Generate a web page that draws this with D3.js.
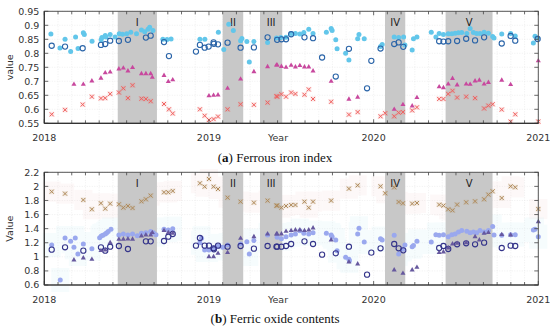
<!DOCTYPE html>
<html><head><meta charset="utf-8">
<script src="https://cdn.jsdelivr.net/npm/d3@7/dist/d3.min.js"></script>
<style>body{margin:0;background:#fff}svg{display:block}</style>
</head><body>
<script>
// ---------- DATA (decimal years, values) ----------
const bands = [[2018.446,2018.684,"I"],[2019.083,2019.208,"II"],[2019.31,2019.445,"III"],[2020.069,2020.192,"IV"],[2020.437,2020.722,"V"]];
const xTicks = [2018,2019,2020,2021];
const yTicksA = [0.55,0.6,0.65,0.7,0.75,0.8,0.85,0.9,0.95];
const yTicksB = [0.6,0.8,1,1.2,1.4,1.6,1.8,2,2.2];

// panel (a)
const aLightBlue = [[2018.04,0.869],[2018.095,0.819],[2018.126,0.85],[2018.16,0.806],[2018.19,0.858],[2018.205,0.817],[2018.237,0.873],[2018.243,0.867],[2018.29,0.843],[2018.345,0.848],[2018.35,0.856],[2018.37,0.864],[2018.375,0.858],[2018.4,0.867],[2018.43,0.858],[2018.455,0.87],[2018.475,0.868],[2018.5,0.87],[2018.525,0.875],[2018.56,0.87],[2018.59,0.883],[2018.61,0.877],[2018.63,0.886],[2018.64,0.893],[2018.66,0.881],[2018.72,0.85],[2018.745,0.849],[2018.77,0.851],[2018.945,0.85],[2018.975,0.85],[2019.057,0.875],[2019.09,0.814],[2019.12,0.904],[2019.148,0.881],[2019.192,0.845],[2019.2,0.853],[2019.23,0.842],[2019.245,0.769],[2019.273,0.842],[2019.356,0.839],[2019.41,0.855],[2019.436,0.856],[2019.468,0.857],[2019.499,0.871],[2019.525,0.871],[2019.552,0.869],[2019.576,0.874],[2019.606,0.886],[2019.632,0.871],[2019.713,0.875],[2019.742,0.889],[2019.748,0.881],[2019.77,0.848],[2019.778,0.816],[2019.83,0.8],[2019.85,0.776],[2019.903,0.852],[2019.911,0.867],[2019.943,0.852],[2020.042,0.824],[2020.052,0.831],[2020.125,0.858],[2020.152,0.856],[2020.182,0.858],[2020.19,0.83],[2020.234,0.812],[2020.242,0.852],[2020.263,0.858],[2020.35,0.875],[2020.378,0.858],[2020.398,0.871],[2020.424,0.867],[2020.453,0.87],[2020.475,0.87],[2020.495,0.872],[2020.515,0.873],[2020.535,0.874],[2020.566,0.871],[2020.586,0.889],[2020.606,0.874],[2020.626,0.871],[2020.646,0.871],[2020.671,0.875],[2020.697,0.872],[2020.723,0.86],[2020.731,0.855],[2020.778,0.869],[2020.832,0.871],[2020.86,0.862],[2020.97,0.837],[2020.98,0.861],[2020.996,0.855]];
const aDarkCircle = [[2018.045,0.827],[2018.126,0.824],[2018.233,0.818],[2018.344,0.83],[2018.37,0.833],[2018.4,0.845],[2018.453,0.844],[2018.508,0.848],[2018.617,0.856],[2018.646,0.863],[2018.727,0.84],[2018.757,0.79],[2018.921,0.806],[2018.945,0.83],[2018.974,0.82],[2018.998,0.824],[2019.028,0.839],[2019.03,0.834],[2019.055,0.832],[2019.113,0.838],[2019.192,0.82],[2019.273,0.821],[2019.356,0.857],[2019.414,0.848],[2019.44,0.85],[2019.468,0.85],[2019.499,0.868],[2019.58,0.857],[2019.632,0.854],[2019.687,0.785],[2019.77,0.717],[2019.85,0.816],[2019.96,0.675],[2019.986,0.773],[2020.042,0.817],[2020.125,0.833],[2020.152,0.839],[2020.18,0.823],[2020.398,0.843],[2020.424,0.842],[2020.453,0.843],[2020.507,0.844],[2020.562,0.852],[2020.616,0.846],[2020.671,0.857],[2020.778,0.835],[2020.832,0.862],[2020.86,0.845],[2020.996,0.851]];
const aTriangle = [[2018.18,0.689],[2018.237,0.689],[2018.289,0.701],[2018.344,0.711],[2018.37,0.73],[2018.4,0.733],[2018.453,0.744],[2018.48,0.747],[2018.508,0.737],[2018.536,0.749],[2018.59,0.727],[2018.617,0.727],[2018.646,0.727],[2018.656,0.714],[2018.727,0.721],[2018.753,0.699],[2018.78,0.705],[2019.0,0.648],[2019.028,0.65],[2019.055,0.651],[2019.113,0.675],[2019.192,0.708],[2019.273,0.734],[2019.356,0.752],[2019.41,0.758],[2019.414,0.758],[2019.44,0.753],[2019.468,0.75],[2019.499,0.757],[2019.525,0.751],[2019.552,0.756],[2019.58,0.751],[2019.606,0.751],[2019.632,0.737],[2019.742,0.7],[2019.85,0.636],[2019.903,0.643],[2020.125,0.6],[2020.178,0.617],[2020.234,0.612],[2020.263,0.642],[2020.398,0.68],[2020.424,0.677],[2020.453,0.69],[2020.479,0.71],[2020.507,0.687],[2020.562,0.69],[2020.586,0.689],[2020.616,0.701],[2020.642,0.704],[2020.671,0.69],[2020.697,0.696],[2020.778,0.704],[2020.832,0.688],[2021.0,0.773]];
const aCross = [[2018.045,0.582],[2018.126,0.598],[2018.233,0.617],[2018.289,0.645],[2018.344,0.639],[2018.37,0.64],[2018.4,0.655],[2018.453,0.66],[2018.48,0.675],[2018.508,0.64],[2018.536,0.686],[2018.59,0.638],[2018.617,0.637],[2018.646,0.629],[2018.727,0.619],[2018.757,0.6],[2018.78,0.585],[2018.945,0.6],[2018.974,0.577],[2019.0,0.562],[2019.028,0.565],[2019.055,0.574],[2019.113,0.6],[2019.192,0.618],[2019.273,0.616],[2019.356,0.624],[2019.41,0.647],[2019.414,0.645],[2019.44,0.654],[2019.468,0.645],[2019.499,0.66],[2019.525,0.655],[2019.58,0.652],[2019.606,0.671],[2019.632,0.637],[2019.742,0.627],[2019.85,0.581],[2019.903,0.59],[2020.042,0.575],[2020.07,0.586],[2020.125,0.575],[2020.152,0.588],[2020.178,0.59],[2020.234,0.596],[2020.263,0.607],[2020.398,0.637],[2020.424,0.637],[2020.453,0.655],[2020.479,0.666],[2020.507,0.642],[2020.562,0.645],[2020.616,0.64],[2020.671,0.603],[2020.697,0.613],[2020.723,0.618],[2020.778,0.599],[2020.832,0.556],[2020.86,0.582],[2021.0,0.556]];

// panel (b)
const bCross = [[2018.045,1.925],[2018.126,1.897],[2018.237,1.807],[2018.289,1.675],[2018.344,1.76],[2018.37,1.684],[2018.4,1.755],[2018.453,1.746],[2018.48,1.698],[2018.508,1.722],[2018.536,1.693],[2018.59,1.788],[2018.617,1.817],[2018.646,1.869],[2018.727,1.916],[2018.753,1.916],[2018.78,1.935],[2018.945,2.044],[2018.974,1.996],[2019.0,2.105],[2019.028,1.996],[2019.055,1.963],[2019.113,1.84],[2019.192,1.783],[2019.273,1.769],[2019.356,1.798],[2019.41,1.727],[2019.414,1.727],[2019.44,1.698],[2019.468,1.722],[2019.499,1.736],[2019.525,1.736],[2019.58,1.783],[2019.606,1.698],[2019.632,1.783],[2019.742,1.798],[2019.85,1.968],[2019.903,2.015],[2020.042,2.001],[2020.07,1.902],[2020.125,1.987],[2020.152,1.779],[2020.178,1.76],[2020.234,1.755],[2020.263,1.764],[2020.398,1.741],[2020.424,1.727],[2020.453,1.675],[2020.479,1.66],[2020.507,1.741],[2020.562,1.774],[2020.616,1.788],[2020.671,1.817],[2020.697,1.883],[2020.723,1.93],[2020.778,1.835],[2020.832,2.001],[2020.86,1.987],[2021.0,1.679]];
const bLightCircle = [[2018.045,1.168],[2018.097,0.671],[2018.126,1.267],[2018.16,1.22],[2018.188,1.267],[2018.18,1.135],[2018.204,1.04],[2018.237,1.182],[2018.289,1.116],[2018.336,1.272],[2018.346,1.296],[2018.356,1.305],[2018.37,1.324],[2018.378,1.34],[2018.388,1.36],[2018.405,1.39],[2018.453,1.31],[2018.48,1.324],[2018.508,1.31],[2018.536,1.324],[2018.565,1.3],[2018.59,1.334],[2018.617,1.343],[2018.646,1.36],[2018.662,1.343],[2018.678,1.315],[2018.727,1.39],[2018.753,1.38],[2018.78,1.4],[2018.945,1.2],[2018.955,1.263],[2018.974,1.097],[2019.0,1.097],[2019.028,1.12],[2019.055,1.154],[2019.083,1.135],[2019.113,1.168],[2019.192,1.182],[2019.23,1.215],[2019.245,1.04],[2019.273,1.23],[2019.356,1.31],[2019.414,1.277],[2019.44,1.258],[2019.468,1.286],[2019.499,1.31],[2019.525,1.324],[2019.552,1.37],[2019.576,1.334],[2019.606,1.324],[2019.632,1.343],[2019.713,1.334],[2019.742,1.31],[2019.748,1.286],[2019.77,1.239],[2019.778,1.088],[2019.83,0.993],[2019.85,0.965],[2019.853,0.945],[2019.903,1.324],[2019.911,1.405],[2019.943,1.21],[2020.042,1.258],[2020.052,1.24],[2020.125,1.305],[2020.152,1.04],[2020.178,1.106],[2020.19,1.168],[2020.234,1.144],[2020.242,1.16],[2020.263,1.22],[2020.35,1.21],[2020.378,1.315],[2020.398,1.305],[2020.424,1.315],[2020.453,1.286],[2020.475,1.315],[2020.495,1.324],[2020.515,1.353],[2020.535,1.372],[2020.566,1.362],[2020.586,1.343],[2020.606,1.353],[2020.626,1.343],[2020.646,1.372],[2020.671,1.353],[2020.697,1.372],[2020.723,1.43],[2020.731,1.31],[2020.778,1.305],[2020.832,1.315],[2020.86,1.315],[2020.97,1.38],[2020.98,1.39],[2021.0,1.286]];
const bDarkCircle = [[2018.045,1.102],[2018.126,1.135],[2018.237,1.088],[2018.344,1.135],[2018.37,1.088],[2018.4,1.144],[2018.453,1.154],[2018.508,1.111],[2018.617,1.22],[2018.646,1.22],[2018.727,1.225],[2018.753,1.286],[2018.78,1.324],[2018.921,1.159],[2018.945,1.267],[2018.974,1.159],[2019.0,1.159],[2019.028,1.121],[2019.03,1.106],[2019.055,1.159],[2019.113,1.144],[2019.192,1.154],[2019.273,1.116],[2019.356,1.154],[2019.41,1.144],[2019.414,1.144],[2019.44,1.144],[2019.468,1.154],[2019.499,1.182],[2019.58,1.22],[2019.632,1.182],[2019.687,1.031],[2019.77,1.05],[2019.85,1.144],[2019.96,0.747],[2019.986,1.059],[2020.042,1.121],[2020.125,1.182],[2020.152,1.121],[2020.18,1.092],[2020.398,1.125],[2020.424,1.154],[2020.453,1.111],[2020.507,1.178],[2020.562,1.192],[2020.616,1.178],[2020.671,1.201],[2020.778,1.125],[2020.832,1.159],[2020.86,1.154]];
const bTriangle = [[2018.18,0.955],[2018.237,0.983],[2018.289,0.964],[2018.344,1.088],[2018.37,1.097],[2018.4,1.201],[2018.453,1.248],[2018.48,1.25],[2018.508,1.253],[2018.536,1.25],[2018.59,1.296],[2018.617,1.31],[2018.646,1.31],[2018.656,1.343],[2018.727,1.372],[2018.753,1.343],[2018.78,1.334],[2019.0,1.002],[2019.028,1.002],[2019.055,1.05],[2019.113,1.059],[2019.192,1.263],[2019.273,1.286],[2019.356,1.324],[2019.41,1.324],[2019.414,1.324],[2019.44,1.324],[2019.468,1.362],[2019.499,1.372],[2019.525,1.381],[2019.552,1.381],[2019.58,1.372],[2019.606,1.381],[2019.632,1.41],[2019.742,1.239],[2019.85,0.927],[2019.903,0.898],[2020.125,0.813],[2020.178,0.766],[2020.234,0.813],[2020.263,0.851],[2020.398,1.059],[2020.424,1.069],[2020.453,1.125],[2020.479,1.182],[2020.507,1.192],[2020.562,1.2],[2020.616,1.286],[2020.642,1.24],[2020.671,1.334],[2020.697,1.343],[2020.778,1.315],[2020.832,1.31],[2021.0,1.499]];

// ---------- DRAW ----------
const W = 550, H = 327;
const svg = d3.select("body").append("svg").attr("width", W).attr("height", H);
const left = 44.3, right = 538.3;
const x = d3.scaleLinear().domain([2018, 2021]).range([left, right]);
const monthTicks = d3.range(0, 37).map(i => 2018 + i / 12);

function panel(opt) {
  const y = d3.scaleLinear().domain(opt.domain).range([opt.bottom, opt.top]);
  const g = svg.append("g");
  // grid
  g.append("g").selectAll("line").data(monthTicks).join("line")
    .attr("x1", d => x(d)).attr("x2", d => x(d)).attr("y1", opt.top).attr("y2", opt.bottom)
    .attr("stroke", "#e6e6e6").attr("stroke-width", 0.6).attr("stroke-dasharray", "1,1.5");
  g.append("g").selectAll("line").data(opt.yTicks).join("line")
    .attr("x1", left).attr("x2", right).attr("y1", d => y(d)).attr("y2", d => y(d))
    .attr("stroke", "#e6e6e6").attr("stroke-width", 0.6).attr("stroke-dasharray", "1,1.5");
  // faint halo bands around selected series (drawn from the data points)
  (opt.halos || []).forEach(h => {
    const hg = g.append("g").attr("opacity", h.opacity);
    h.data.forEach(d => {
      hg.append("rect").attr("x", x(d[0]) - 9).attr("width", 18)
        .attr("y", y(d[1]) - h.half).attr("height", 2 * h.half).attr("fill", h.color);
    });
  });
  // bands
  g.append("g").selectAll("rect").data(bands).join("rect")
    .attr("x", d => x(d[0])).attr("width", d => x(d[1]) - x(d[0]))
    .attr("y", opt.top).attr("height", opt.bottom - opt.top)
    .attr("fill", "#c8c8c8");
  g.append("g").selectAll("text").data(bands).join("text")
    .attr("x", d => x((d[0] + d[1]) / 2)).attr("y", opt.top + 15)
    .attr("text-anchor", "middle").attr("font-family", "DejaVu Sans").attr("font-size", 10)
    .attr("fill", "#222").text(d => d[2]);
  // series
  opt.series.forEach(s => {
    const sg = g.append("g");
    s.data.forEach(d => {
      const cx = x(d[0]), cy = y(d[1]);
      if (s.type === "dot") {
        sg.append("circle").attr("cx", cx).attr("cy", cy).attr("r", 2.5).attr("fill", s.color);
      } else if (s.type === "ring") {
        sg.append("circle").attr("cx", cx).attr("cy", cy).attr("r", 2.6).attr("fill", "none")
          .attr("stroke", s.color).attr("stroke-width", 1.1);
      } else if (s.type === "tri") {
        sg.append("path").attr("d", d3.symbol(d3.symbolTriangle, 11)()).attr("transform", `translate(${cx},${cy})`)
          .attr("fill", s.color);
      } else if (s.type === "cross") {
        sg.append("rect").attr("x", cx - 2.6).attr("y", cy - 2.6).attr("width", 5.2).attr("height", 5.2)
          .attr("fill", s.color).attr("opacity", 0.15);
        sg.append("path").attr("d", `M${cx-2},${cy-2}L${cx+2},${cy+2}M${cx-2},${cy+2}L${cx+2},${cy-2}`)
          .attr("stroke", s.color).attr("stroke-width", 1);
      }
    });
  });
  // frame
  g.append("rect").attr("x", left).attr("y", opt.top).attr("width", right - left).attr("height", opt.bottom - opt.top)
    .attr("fill", "none").attr("stroke", "#555").attr("stroke-width", 1);
  // ticks: months top & bottom
  const tk = g.append("g").attr("stroke", "#444").attr("stroke-width", 0.8);
  monthTicks.forEach(m => {
    const len = (Math.abs(m - Math.round(m)) < 1e-6) ? 4 : 3;
    tk.append("line").attr("x1", x(m)).attr("x2", x(m)).attr("y1", opt.bottom).attr("y2", opt.bottom - len);
    tk.append("line").attr("x1", x(m)).attr("x2", x(m)).attr("y1", opt.top).attr("y2", opt.top + len);
  });
  opt.yTicks.forEach(v => {
    tk.append("line").attr("x1", left).attr("x2", left + 4).attr("y1", y(v)).attr("y2", y(v));
    tk.append("line").attr("x1", right).attr("x2", right - 4).attr("y1", y(v)).attr("y2", y(v));
  });
  g.append("line").attr("x1", left).attr("x2", left).attr("y1", opt.top).attr("y2", opt.bottom).attr("stroke", "#333").attr("stroke-width", 1.2);
  g.append("line").attr("x1", left).attr("x2", right).attr("y1", opt.bottom).attr("y2", opt.bottom).attr("stroke", "#333").attr("stroke-width", 1.2);
  // tick labels
  g.append("g").selectAll("text").data(opt.yTicks).join("text")
    .attr("x", left - 5).attr("y", d => y(d) + 3.3).attr("text-anchor", "end")
    .attr("font-family", "DejaVu Sans").attr("font-size", 9.5).attr("fill", "#333")
    .text(opt.fmt);
  g.append("g").selectAll("text").data(xTicks).join("text")
    .attr("x", d => x(d)).attr("y", opt.bottom + 18).attr("text-anchor", "middle")
    .attr("font-family", "DejaVu Sans").attr("font-size", 9.5).attr("fill", "#333")
    .text(d => d);
  g.append("text").attr("x", 278).attr("y", opt.bottom + 18).attr("text-anchor", "middle")
    .attr("font-family", "DejaVu Sans").attr("font-size", 9.5).attr("fill", "#333").text("Year");
  g.append("text").attr("transform", `translate(13,${(opt.top + opt.bottom) / 2}) rotate(-90)`)
    .attr("text-anchor", "middle").attr("font-family", "DejaVu Sans").attr("font-size", 9.5).attr("fill", "#333")
    .text(opt.ylabel);
  const cap = g.append("text").attr("x", W / 2).attr("y", opt.capY).attr("text-anchor", "middle")
    .attr("font-family", "Liberation Serif").attr("font-size", 13).attr("fill", "#111");
  cap.append("tspan").text("(");
  cap.append("tspan").attr("font-weight", "bold").text(opt.capLetter);
  cap.append("tspan").text(") " + opt.caption);
}

panel({
  top: 11.3, bottom: 123.3, domain: [0.55, 0.95], yTicks: yTicksA, fmt: d => d3.format("")(+d.toFixed(2)),
  ylabel: "value", capY: 162, capLetter: "a", caption: "Ferrous iron index",
  series: [
    { data: aLightBlue, type: "dot", color: "#62c6ea" },
    { data: aDarkCircle, type: "ring", color: "#2a64a8" },
    { data: aTriangle, type: "tri", color: "#c8489e" },
    { data: aCross, type: "cross", color: "#f0605e" }
  ]
});
panel({
  top: 172.3, bottom: 285, domain: [0.6, 2.2], yTicks: yTicksB, fmt: d => d3.format("")(+d.toFixed(1)),
  ylabel: "Value", capY: 323, capLetter: "b", caption: "Ferric oxide contents",
  halos: [
    { data: bCross, color: "#f4c8c8", half: 10, opacity: 0.12 },
    { data: bLightCircle, color: "#b8ecf6", half: 12, opacity: 0.12 }
  ],
  series: [
    { data: bCross, type: "cross", color: "#b08a5a" },
    { data: bLightCircle, type: "dot", color: "#9aa8ee" },
    { data: bDarkCircle, type: "ring", color: "#34348a" },
    { data: bTriangle, type: "tri", color: "#66589e" }
  ]
});
</script>
</body></html>
